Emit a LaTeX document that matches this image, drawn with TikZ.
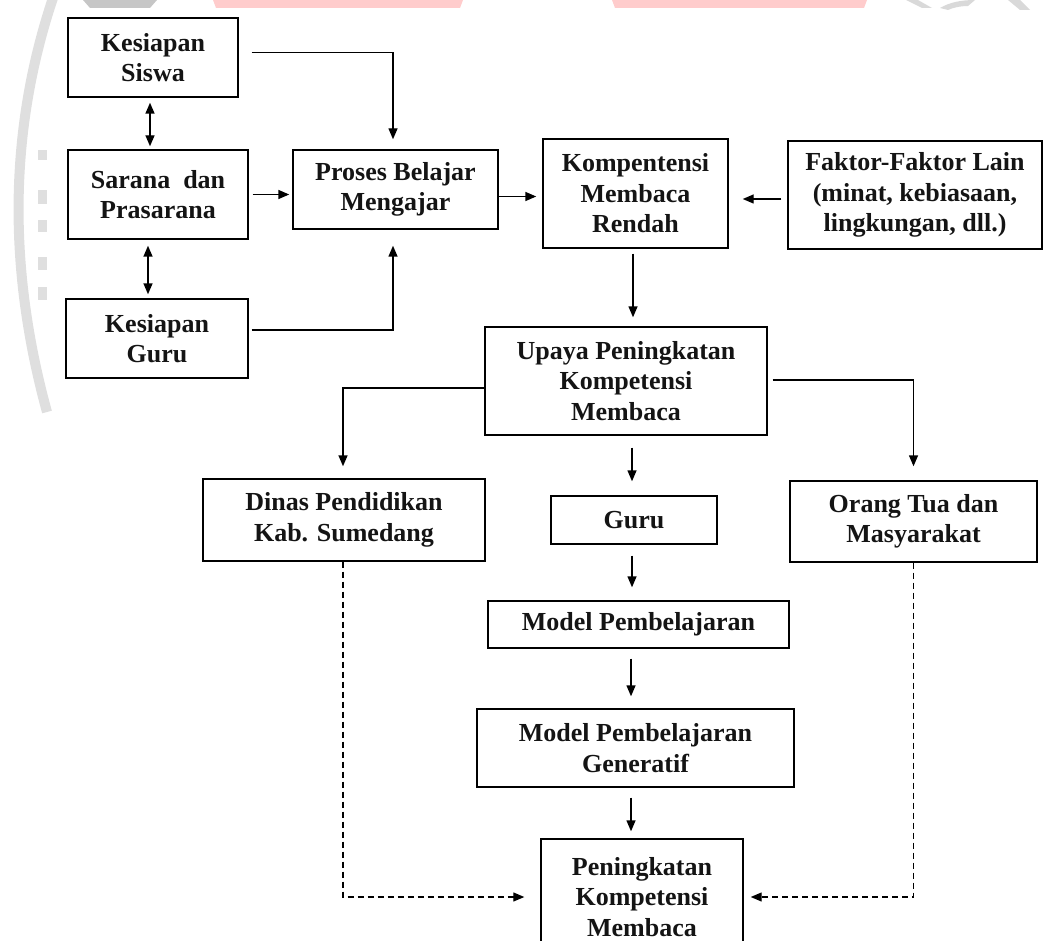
\documentclass[tikz,border=0pt]{standalone}
\usepackage{fontspec}
\setmainfont{Liberation Serif}
\usetikzlibrary{arrows.meta,calc}
\begin{document}
\begin{tikzpicture}[x=1pt,y=-1pt,
  box/.style={draw, line width=1.4pt, align=center, inner sep=0pt,
    font=\fontsize{26}{30.5}\selectfont\bfseries, text=black!92},
  arr/.style={line width=1.4pt, -{Triangle[length=11pt,width=9pt]}},
  dbl/.style={line width=1.4pt, {Triangle[length=11pt,width=9pt]}-{Triangle[length=11pt,width=9pt]}},
  darr/.style={line width=1.2pt, dash pattern=on 6pt off 4pt, -{Triangle[length=11pt,width=9pt]}},
  wm/.style={fill=gray!30, draw=none},
  wmred/.style={fill=red!20, draw=none}
]
\path[use as bounding box] (0,0) rectangle (1046,941);
\clip (0,0) rectangle (1046,941);

% faint watermark
\draw[gray!25, line width=10pt] (54,-5) .. controls (8,130) and (8,270) .. (47,412);
\foreach \ya/\yb in {150/160, 190/204, 220/232, 257/270, 287/300}
  \fill[gray!25] (38,\ya) rectangle (47,\yb);
\fill[gray!45] (83,0) -- (157,0) -- (150,8) -- (90,8) -- cycle;
\path[wmred] (213,0) -- (463,0) -- (460,8) -- (216,8) -- cycle;
\path[wmred] (612,0) -- (867,0) -- (864,8) -- (615,8) -- cycle;
\path[wm] (906,0) -- (918,0) -- (932,8) -- (922,8) -- cycle;
\path[wm] (940,8) .. controls (950,2) and (962,0) .. (975,0) -- (968,6) .. controls (960,6) and (952,8) .. (948,10) -- cycle;
\path[wm] (1008,0) -- (1020,0) -- (1030,10) -- (1020,10) -- cycle;

% boxes
\node[box, minimum width=170pt, minimum height=79pt]  (siswa)  at (153,57.5)  {Kesiapan\\Siswa};
\node[box, minimum width=180pt, minimum height=89pt]  (sarana) at (158,194.5) {Sarana~ dan\\Prasarana};
\node[box, minimum width=182pt, minimum height=79pt]  (kguru)  at (157,338.5) {Kesiapan\\Guru};
\node[box, minimum width=205pt, minimum height=79pt]  (proses) at (395.5,189.5) {Proses Belajar\\Mengajar};
\node[box, minimum width=185pt, minimum height=109pt] (komp)   at (635.5,193.5) {Kompentensi\\Membaca\\Rendah};
\node[box, minimum width=254pt, minimum height=108pt] (faktor) at (915,195) {Faktor-Faktor Lain\\(minat, kebiasaan,\\lingkungan, dll.)};
\node[box, minimum width=282pt, minimum height=108pt] (upaya)  at (626,381) {Upaya Peningkatan\\Kompetensi\\Membaca};
\node[box, minimum width=282pt, minimum height=82pt]  (dinas)  at (344,520) {Dinas Pendidikan\\Kab. Sumedang};
\node[box, minimum width=166pt, minimum height=48pt]  (guru)   at (634,520) {Guru};
\node[box, minimum width=247pt, minimum height=81pt]  (orang)  at (913.5,521.5) {Orang Tua dan\\Masyarakat};
\node[box, minimum width=301pt, minimum height=47pt]  (model)  at (638.5,624.5) {Model Pembelajaran};
\node[box, minimum width=317pt, minimum height=78pt]  (gen)    at (635.5,748) {Model Pembelajaran\\Generatif};
\node[box, minimum width=202pt, minimum height=116pt] (pen)    at (642,897) {Peningkatan\\Kompetensi\\Membaca};

% connectors
\draw[arr] ([xshift=13pt,yshift=5pt]siswa.east) -| ([xshift=-2.5pt,yshift=10pt]proses.north);
\draw[dbl] ([xshift=-3pt,yshift=-5pt]siswa.south) -- ([xshift=-8pt,yshift=3pt]sarana.north);
\draw[dbl] ([xshift=-10pt,yshift=-6pt]sarana.south) -- ([xshift=-9pt,yshift=4pt]kguru.north);
\draw[arr] ([xshift=4pt]sarana.east) -- ([xshift=-3pt]sarana.east -| proses.west);
\draw[arr] ([xshift=3pt,yshift=8.5pt]kguru.east) -| ([xshift=-2.5pt,yshift=-16pt]proses.south);
\draw[arr] ([yshift=-7pt]proses.east) -- ([xshift=-6pt,yshift=-7pt]proses.east -| komp.west);
\draw[arr] ([xshift=-6pt,yshift=-4pt]faktor.west) -- ([xshift=14pt,yshift=-4pt]faktor.west -| komp.east);
\draw[arr] ([xshift=-2.5pt,yshift=-5pt]komp.south) -- ([xshift=-2.5pt,yshift=9pt]komp.south |- upaya.north);
\draw[arr] ([yshift=-7pt]upaya.west) -| ([xshift=-1pt,yshift=12pt]dinas.north);
\draw[arr] ([xshift=5pt,yshift=1pt]upaya.east) -| ([yshift=14pt]orang.north);
\draw[arr] ([xshift=-2pt,yshift=-12pt]guru.north |- upaya.south) -- ([xshift=-2pt,yshift=14pt]guru.north);
\draw[arr] ([xshift=-2pt,yshift=-11pt]guru.south) -- ([xshift=-2pt,yshift=13pt]guru.south |- model.north);
\draw[arr] ([xshift=-3pt,yshift=-10pt]model.south -| guru.south) -- ([xshift=-3pt,yshift=12pt]gen.north -| guru.south);
\draw[arr] ([xshift=-3pt,yshift=-10pt]gen.south -| guru.south) -- ([xshift=-3pt,yshift=7pt]pen.north -| guru.south);
\draw[darr] ([xshift=-1pt]dinas.south) |- ([xshift=-16pt]pen.west);
\draw[darr] (orang.south) |- ([xshift=7pt]pen.east);
\end{tikzpicture}
\end{document}
